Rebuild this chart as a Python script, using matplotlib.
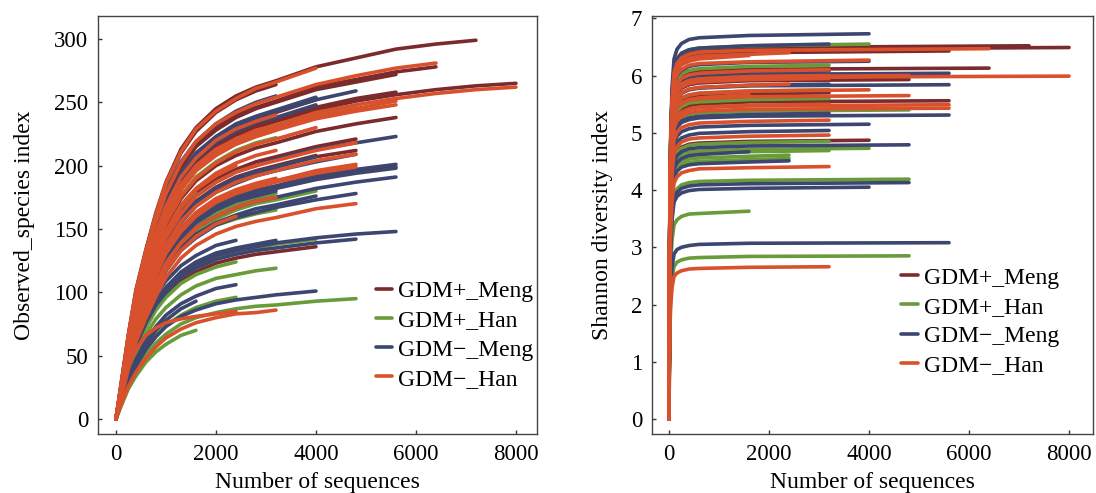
import matplotlib
matplotlib.use("Agg")
import matplotlib.pyplot as plt

plt.rcParams['font.family'] = ['Liberation Serif', 'DejaVu Serif']

groups = ['GDM+_Meng', 'GDM+_Han', 'GDM\u2212_Meng', 'GDM\u2212_Han']
colors = ['#7B2B2C', '#6A9B3B', '#3C4670', '#D8512C']

obs_depth = [0, 100, 250, 400, 600, 800, 1000, 1300, 1600, 2000, 2400, 2800,
             3200, 4000, 4800, 5600, 6400, 7200, 8000]

obs_meng_pos = [
    [0, 27, 67, 102, 134, 163, 187, 213, 230, 245, 255, 262, 267, 278, 285, 292, 296, 299],
    [0, 25, 63, 96, 126, 153, 176, 200, 216, 230, 240, 246, 251, 262, 268, 274, 278],
    [0, 23, 59, 89, 117, 143, 164, 187, 202, 215, 224, 230, 235, 244, 251, 256, 260, 263, 265],
    [0, 25, 62, 95, 125, 152, 175, 198, 215, 228, 238, 245, 250, 260, 266, 272],
    [0, 24, 59, 90, 118, 144, 166, 188, 204, 217, 226, 232, 237, 246, 253, 258],
    [0, 22, 55, 83, 109, 133, 153, 174, 188, 200, 208, 214, 218, 227, 233, 238],
    [0, 21, 52, 79, 104, 126, 145, 165, 178, 190, 197, 203, 207, 215, 221],
    [0, 20, 50, 76, 99, 121, 139, 158, 171, 182, 189, 195, 199, 207, 212],
    [0, 18, 46, 69, 91, 111, 128, 145, 157, 167, 174, 179, 183, 190, 195, 199],
    [0, 26, 66, 100, 132, 161, 185, 210, 227, 242, 252, 259, 264],
    [0, 17, 40, 57, 74, 88, 98, 109, 116, 123, 127, 130, 132, 136],
    [0, 24, 61, 92, 121, 148, 170, 193, 208, 222, 231, 237, 242, 252],
    [0, 20, 50, 76, 100, 122, 140, 159, 172, 183, 191, 196, 200, 208],
]
obs_han_pos = [
    [0, 23, 58, 88, 116, 141, 162, 184, 199, 212, 221, 227, 232, 241, 247],
    [0, 22, 56, 84, 111, 135, 155, 176, 191, 203, 212, 218, 222],
    [0, 20, 49, 75, 99, 120, 138, 157, 169, 180, 188, 193, 197],
    [0, 18, 45, 68, 89, 109, 125, 142, 153, 163, 170, 174, 178],
    [0, 21, 50, 71, 92, 110, 122, 136, 145, 153, 158, 162, 165],
    [0, 17, 43, 66, 87, 106, 121, 138, 149, 158, 165, 170, 173, 180],
    [0, 18, 41, 59, 77, 92, 102, 114, 121, 128, 132, 135, 138, 142],
    [0, 15, 36, 51, 67, 79, 88, 98, 105, 111, 114, 117, 119],
    [0, 13, 30, 43, 56, 66, 74, 82, 88, 93, 96],
    [0, 12, 27, 39, 51, 60, 67, 75, 80, 84, 87, 89, 90, 93, 95],
    [0, 10, 24, 34, 45, 53, 59, 66, 70],
    [0, 21, 52, 79, 104, 126, 145, 165, 178],
    [0, 18, 41, 59, 76, 91, 101, 113, 120, 127, 131],
    [0, 17, 39, 56, 72, 86, 96, 107, 114, 120, 124],
]
obs_meng_neg = [
    [0, 24, 61, 92, 121, 148, 170, 193, 209, 222, 231, 238, 243, 252, 259],
    [0, 26, 64, 97, 128, 156, 179, 203, 219, 233, 243, 250, 255],
    [0, 24, 61, 93, 122, 149, 171, 194, 210, 223, 233, 239, 244, 254],
    [0, 24, 60, 91, 119, 145, 167, 190, 205, 218, 227, 234, 238, 248],
    [0, 20, 51, 78, 102, 125, 143, 163, 176, 187, 195, 200, 205, 213, 218, 223],
    [0, 18, 46, 70, 92, 112, 129, 147, 159, 169, 176, 181, 184, 192, 197, 201],
    [0, 18, 45, 69, 91, 111, 127, 144, 156, 166, 173, 178, 182, 189, 194, 198],
    [0, 18, 44, 67, 88, 107, 123, 139, 151, 160, 167, 172, 175, 182, 187, 191],
    [0, 18, 42, 60, 78, 92, 103, 115, 122, 129, 133, 136, 139, 143, 146, 148],
    [0, 17, 42, 63, 83, 102, 117, 133, 143, 153, 159, 163, 167, 173, 178],
    [0, 18, 41, 58, 76, 90, 100, 112, 119, 126, 130, 133, 135, 139, 142],
    [0, 20, 49, 74, 98, 119, 137, 155, 168, 179, 186, 192, 196, 203, 209],
    [0, 20, 50, 76, 100, 121, 139, 158, 171, 182, 190, 195, 199, 207],
    [0, 17, 42, 64, 85, 103, 118, 135, 146, 155, 161, 166, 169, 176],
    [0, 13, 29, 42, 55, 65, 73, 81, 86, 91, 94, 96, 98, 101],
    [0, 18, 42, 61, 79, 94, 104, 116, 124, 131, 135, 138, 141],
    [0, 19, 44, 63, 82, 98, 109, 121, 129, 137, 141],
    [0, 14, 33, 47, 62, 73, 82, 91, 97, 103, 106],
    [0, 14, 32, 45, 59, 70, 78, 87, 93],
    [0, 20, 50, 75, 99, 121, 139, 157, 170, 181, 189, 194, 198],
    [0, 18, 45, 68, 90, 110, 126, 143, 155, 165, 172, 176, 180],
]
obs_han_neg = [
    [0, 27, 67, 101, 133, 162, 186, 211, 229, 243, 253, 261, 266, 277],
    [0, 25, 64, 97, 127, 155, 178, 202, 219, 233, 242, 249, 254, 264, 271, 277, 281],
    [0, 23, 58, 88, 116, 142, 163, 185, 200, 213, 221, 228, 232, 242, 248, 253, 257, 260, 262],
    [0, 23, 58, 87, 115, 140, 161, 183, 198, 210, 219, 225, 230, 239, 245, 251],
    [0, 23, 57, 86, 114, 139, 159, 181, 196, 208, 217, 223, 228, 237, 243, 248],
    [0, 20, 51, 78, 102, 125, 143, 162, 176, 187, 195, 200, 204, 212, 218],
    [0, 20, 49, 74, 98, 120, 137, 156, 168, 179, 187, 192, 196, 204, 209],
    [0, 19, 47, 72, 94, 115, 132, 150, 162, 172, 180, 185, 188, 196, 201],
    [0, 19, 47, 71, 93, 114, 131, 148, 160, 171, 178, 183, 187, 194, 199],
    [0, 16, 40, 61, 80, 97, 112, 127, 137, 146, 152, 156, 159, 166, 170],
    [0, 11, 26, 37, 48, 57, 64, 71, 76, 80, 83, 84, 86],
    [0, 20, 42, 55, 66, 72, 76, 79, 81, 83, 85],
    [0, 24, 60, 91, 120, 146, 168, 191, 206, 220, 229, 235, 240],
    [0, 23, 57, 87, 114, 139, 160, 181, 196, 209, 217, 223, 228],
    [0, 21, 53, 81, 106, 129, 148, 169, 182, 194, 202, 208, 212],
    [0, 19, 48, 72, 95, 116, 133, 151, 163, 174, 181, 186, 190],
    [0, 18, 44, 67, 88, 107, 123, 139, 151, 160, 167, 172, 175],
    [0, 22, 55, 84, 111, 135, 155, 176, 190, 202, 211, 217, 221, 230],
    [0, 19, 47, 71, 94, 114, 131, 149, 161, 172, 179, 184, 188, 195],
    [0, 17, 42, 64, 84, 102, 118, 133, 144, 154, 160],
    [0, 17, 44, 66, 87, 106, 122, 139, 150],
    [0, 21, 52, 80, 105, 128, 147, 167, 181, 192, 200],
]

# shannon: values at sh_depth, the last value sits at the curve's end depth
sh_depth = [0, 10, 30, 60, 100, 160, 250, 400, 600, 1600]

sh_end_meng_pos = [8000, 7200, 5600, 6400, 5600, 4000, 3200, 4800]
sh_meng_pos = [
    [0, 2.92, 4.67, 5.58, 6.07, 6.23, 6.33, 6.39, 6.43, 6.46, 6.49],
    [0, 2.93, 4.69, 5.61, 6.10, 6.26, 6.36, 6.42, 6.45, 6.49, 6.52],
    [0, 2.89, 4.63, 5.53, 6.01, 6.17, 6.27, 6.33, 6.37, 6.40, 6.43],
    [0, 2.76, 4.41, 5.27, 5.73, 5.88, 5.98, 6.04, 6.07, 6.11, 6.13],
    [0, 2.50, 4.00, 4.78, 5.20, 5.34, 5.42, 5.48, 5.50, 5.54, 5.56],
    [0, 2.19, 3.51, 4.19, 4.55, 4.68, 4.75, 4.80, 4.82, 4.85, 4.87],
    [0, 2.57, 4.10, 4.90, 5.33, 5.47, 5.56, 5.61, 5.64, 5.68, 5.70],
    [0, 2.67, 4.27, 5.10, 5.54, 5.69, 5.78, 5.84, 5.87, 5.91, 5.93],
]
sh_end_han_pos = [4000, 3200, 3200, 4800, 3200, 4000, 3200, 2400, 2400, 4800, 1600, 4800, 3200]
sh_han_pos = [
    [0, 2.95, 4.72, 5.63, 6.12, 6.29, 6.39, 6.45, 6.48, 6.52, 6.55],
    [0, 2.78, 4.45, 5.31, 5.78, 5.93, 6.03, 6.09, 6.12, 6.16, 6.18],
    [0, 2.52, 4.03, 4.82, 5.24, 5.38, 5.46, 5.52, 5.54, 5.58, 5.60],
    [0, 2.43, 3.89, 4.64, 5.05, 5.18, 5.27, 5.32, 5.35, 5.38, 5.40],
    [0, 2.18, 3.49, 4.17, 4.53, 4.66, 4.73, 4.78, 4.80, 4.83, 4.85],
    [0, 2.13, 3.41, 4.07, 4.42, 4.54, 4.61, 4.66, 4.68, 4.71, 4.73],
    [0, 2.11, 3.38, 4.03, 4.39, 4.50, 4.57, 4.62, 4.64, 4.67, 4.69],
    [0, 2.07, 3.32, 3.96, 4.31, 4.43, 4.49, 4.54, 4.56, 4.59, 4.61],
    [0, 2.05, 3.28, 3.91, 4.25, 4.37, 4.44, 4.48, 4.50, 4.53, 4.55],
    [0, 1.89, 3.02, 3.60, 3.92, 4.02, 4.09, 4.13, 4.15, 4.17, 4.19],
    [0, 1.63, 2.61, 3.12, 3.39, 3.48, 3.54, 3.58, 3.59, 3.63],
    [0, 1.28, 2.05, 2.45, 2.66, 2.74, 2.78, 2.81, 2.82, 2.84, 2.85],
    [0, 2.59, 4.14, 4.95, 5.38, 5.52, 5.61, 5.66, 5.69, 5.73, 5.75],
]
sh_end_meng_neg = [4000, 3200, 4000, 5600, 5600, 5600, 3200, 4000, 3200, 4800,
                   1600, 2400, 4800, 4000, 5600, 3200, 3200]
sh_meng_neg = [
    [0, 3.03, 4.85, 5.79, 6.29, 6.46, 6.56, 6.63, 6.66, 6.70, 6.73],
    [0, 2.95, 4.72, 5.63, 6.12, 6.29, 6.39, 6.45, 6.48, 6.52, 6.55],
    [0, 2.81, 4.50, 5.38, 5.84, 6.00, 6.09, 6.16, 6.19, 6.23, 6.25],
    [0, 2.72, 4.35, 5.19, 5.65, 5.80, 5.89, 5.95, 5.98, 6.02, 6.04],
    [0, 2.63, 4.20, 5.02, 5.46, 5.61, 5.69, 5.75, 5.78, 5.82, 5.84],
    [0, 2.39, 3.82, 4.57, 4.96, 5.10, 5.18, 5.23, 5.26, 5.29, 5.31],
    [0, 2.40, 3.84, 4.59, 4.99, 5.13, 5.21, 5.26, 5.29, 5.32, 5.34],
    [0, 2.32, 3.71, 4.43, 4.82, 4.94, 5.02, 5.07, 5.10, 5.13, 5.15],
    [0, 2.27, 3.63, 4.33, 4.71, 4.84, 4.91, 4.96, 4.99, 5.02, 5.04],
    [0, 2.16, 3.45, 4.12, 4.48, 4.60, 4.67, 4.72, 4.74, 4.77, 4.79],
    [0, 2.10, 3.36, 4.02, 4.37, 4.48, 4.55, 4.60, 4.62, 4.67],
    [0, 2.03, 3.25, 3.88, 4.22, 4.33, 4.40, 4.44, 4.46, 4.49, 4.51],
    [0, 1.86, 2.97, 3.55, 3.86, 3.96, 4.03, 4.07, 4.09, 4.11, 4.13],
    [0, 1.82, 2.92, 3.48, 3.79, 3.89, 3.95, 3.99, 4.01, 4.03, 4.05],
    [0, 1.39, 2.22, 2.65, 2.88, 2.96, 3.00, 3.03, 3.05, 3.07, 3.08],
    [0, 2.74, 4.38, 5.23, 5.68, 5.84, 5.93, 5.99, 6.02, 6.06, 6.08],
    [0, 2.63, 4.21, 5.03, 5.47, 5.62, 5.70, 5.76, 5.79, 5.83, 5.85],
]
sh_end_han_neg = [6400, 8000, 2400, 4000, 4800, 4000, 4800, 5600, 5600, 3200,
                  3200, 3200, 3200, 1600, 3200, 3200, 2400, 3200, 1600, 3200]
sh_han_neg = [
    [0, 2.91, 4.66, 5.56, 6.05, 6.21, 6.31, 6.37, 6.41, 6.44, 6.47],
    [0, 2.70, 4.31, 5.15, 5.60, 5.75, 5.84, 5.90, 5.93, 5.97, 5.99],
    [0, 2.88, 4.61, 5.50, 5.98, 6.14, 6.24, 6.30, 6.34, 6.37, 6.40],
    [0, 2.82, 4.51, 5.39, 5.86, 6.02, 6.11, 6.18, 6.21, 6.24, 6.27],
    [0, 2.70, 4.32, 5.16, 5.61, 5.76, 5.85, 5.91, 5.94, 5.98, 6.00],
    [0, 2.59, 4.14, 4.95, 5.38, 5.52, 5.61, 5.66, 5.69, 5.73, 5.75],
    [0, 2.54, 4.07, 4.86, 5.28, 5.42, 5.51, 5.57, 5.59, 5.63, 5.65],
    [0, 2.47, 3.95, 4.72, 5.13, 5.27, 5.35, 5.41, 5.44, 5.47, 5.49],
    [0, 2.44, 3.91, 4.67, 5.08, 5.21, 5.29, 5.35, 5.38, 5.41, 5.43],
    [0, 2.35, 3.76, 4.49, 4.88, 5.01, 5.09, 5.14, 5.17, 5.20, 5.22],
    [0, 2.23, 3.57, 4.27, 4.64, 4.76, 4.84, 4.89, 4.91, 4.94, 4.96],
    [0, 1.98, 3.18, 3.79, 4.12, 4.23, 4.30, 4.34, 4.37, 4.39, 4.41],
    [0, 1.20, 1.92, 2.29, 2.49, 2.55, 2.59, 2.62, 2.63, 2.65, 2.66],
    [0, 2.55, 4.08, 4.88, 5.30, 5.44, 5.53, 5.58, 5.61, 5.67],
    [0, 2.75, 4.39, 5.25, 5.70, 5.86, 5.95, 6.01, 6.04, 6.08, 6.10],
    [0, 2.68, 4.28, 5.12, 5.56, 5.71, 5.80, 5.86, 5.89, 5.93, 5.95],
    [0, 2.63, 4.21, 5.03, 5.47, 5.62, 5.70, 5.76, 5.79, 5.83, 5.85],
    [0, 2.48, 3.96, 4.73, 5.14, 5.28, 5.36, 5.42, 5.45, 5.48, 5.50],
    [0, 2.86, 4.57, 5.46, 5.94, 6.10, 6.19, 6.25, 6.29, 6.35],
    [0, 2.70, 4.32, 5.16, 5.61, 5.76, 5.85, 5.91, 5.94, 5.98, 6.00],
]

obs_sets = [obs_meng_pos, obs_han_pos, obs_meng_neg, obs_han_neg]
sh_sets = [sh_meng_pos, sh_han_pos, sh_meng_neg, sh_han_neg]
sh_ends = [sh_end_meng_pos, sh_end_han_pos, sh_end_meng_neg, sh_end_han_neg]

LW = 2.6
FS = 17

fig = plt.figure(figsize=(10.96, 4.93), dpi=100)
ax1 = fig.add_axes([0.0894, 0.1197, 0.4005, 0.8485])
ax2 = fig.add_axes([0.5949, 0.1197, 0.4024, 0.8485])

# left panel
for g, curves in enumerate(obs_sets):
    for i, v in enumerate(curves):
        ax1.plot(obs_depth[:len(v)], v, color=colors[g], lw=LW,
                 solid_capstyle='round', solid_joinstyle='round',
                 label=groups[g] if i == 0 else None)

# right panel
for g, curves in enumerate(sh_sets):
    for i, v in enumerate(curves):
        x = sh_depth[:len(v) - 1] + [sh_ends[g][i]]
        ax2.plot(x, v, color=colors[g], lw=LW,
                 solid_capstyle='round', solid_joinstyle='round',
                 label=groups[g] if i == 0 else None)

ax1.set_xlim(-360, 8420)
ax1.set_ylim(-11.85, 318.4)
ax1.set_yticks([0, 50, 100, 150, 200, 250, 300])
ax1.set_ylabel('Observed_species index', fontsize=FS, labelpad=14)

ax2.set_xlim(-340, 8480)
ax2.set_ylim(-0.262, 7.046)
ax2.set_yticks(range(0, 8))
ax2.set_ylabel('Shannon diversity index', fontsize=FS, labelpad=13)

for ax in (ax1, ax2):
    ax.set_xticks([0, 2000, 4000, 6000, 8000])
    ax.set_xlabel('Number of sequences', fontsize=FS, labelpad=5)
    ax.tick_params(direction='in', length=3, width=1, labelsize=16.5,
                   pad=7, color='#333333')
    for s in ax.spines.values():
        s.set_linewidth(1.0)
        s.set_color('#444444')

leg_kw = dict(frameon=False, fontsize=FS, handlelength=0.7, handletextpad=0.25,
              labelspacing=0.32, borderpad=0, borderaxespad=0, loc='upper left')
ax1.legend(bbox_to_anchor=(0.633, 0.366), **leg_kw)
ax2.legend(bbox_to_anchor=(0.565, 0.399), **leg_kw)

fig.savefig('out.png', dpi=100)
